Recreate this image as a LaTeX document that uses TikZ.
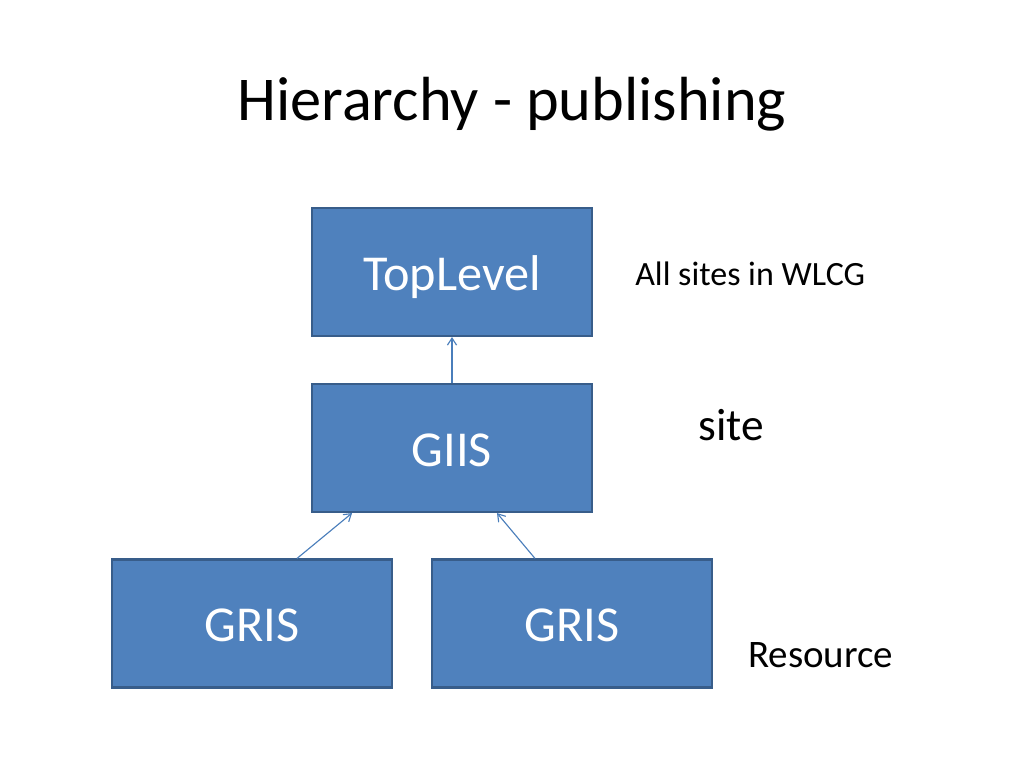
\documentclass[tikz,border=0pt]{standalone}
\usepackage{fontspec}
\setmainfont{Carlito}
\usetikzlibrary{positioning, arrows.meta}

\definecolor{boxfill}{HTML}{4F81BD}
\definecolor{boxline}{HTML}{385D8A}
\definecolor{arrowline}{HTML}{4A7EBB}

\def \boxwidth {6.945cm}
\def \boxheight {3.175cm}

\tikzset{
  box/.style={draw=boxline, fill=boxfill, line width=1.5pt, rectangle,
    minimum width=\boxwidth, minimum height=\boxheight, text=white,
    text height=0.893cm, text depth=0pt, font=\fontsize{35.5}{42}\selectfont},
  pub/.style={-{Straight Barb[length=5pt, width=6.5pt]}, draw=arrowline, line width=0.8pt},
  note/.style={anchor=base west, inner sep=0pt}
}

\begin{document}
\begin{tikzpicture}[x=0.0248046875cm, y=-0.0248046875cm]
\useasboundingbox (0,0) rectangle (1024,768);
\node[anchor=base, inner sep=0pt, font=\fontsize{44}{52}\selectfont] (title) at (512,120) {Hierarchy - publishing};

\node[box] (toplevel) at (452,272) {TopLevel};
\node[box] (giis) at (452,448) {GIIS};
\node[box] (gris1) at (252,623.5) {GRIS};
\node[box] (gris2) at (572,623.5) {GRIS};

\node[note, font=\fontsize{24}{28}\selectfont] (allsites) at (635,285) {All sites in WLCG};
\node[note, font=\fontsize{32}{38}\selectfont] (site) at (698,440) {site};
\node[note, font=\fontsize{27.5}{32}\selectfont] (resource) at (748,667) {Resource};

\draw[pub] (giis.north) -- (toplevel.south);
\draw[pub] ([xshift=1.116cm]gris1.north) -- ([xshift=-2.48cm]giis.south);
\draw[pub] ([xshift=-0.918cm]gris2.north) -- ([xshift=1.116cm]giis.south);
\end{tikzpicture}
\end{document}
